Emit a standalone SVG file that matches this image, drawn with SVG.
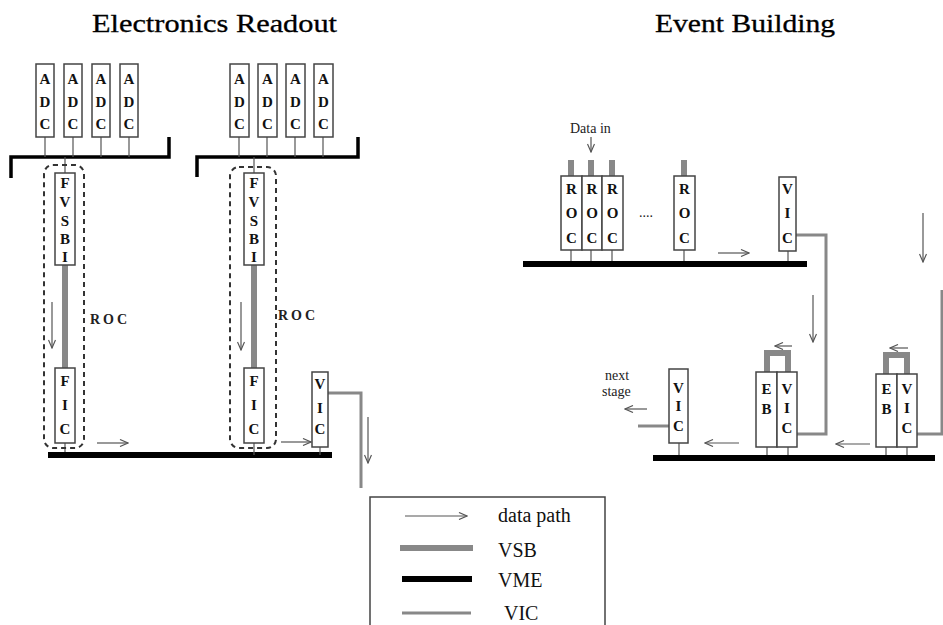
<svg xmlns="http://www.w3.org/2000/svg" width="943" height="625" viewBox="0 0 943 625">
<defs>
<marker id="ah" markerWidth="10" markerHeight="8" refX="9" refY="4" orient="auto" markerUnits="userSpaceOnUse">
<path d="M1,0.5 L9,4 L1,7.5" fill="none" stroke="#555" stroke-width="1.2"/>
</marker>
<style>
.title{font-family:"Liberation Serif",serif;font-size:25px;fill:#000;stroke:#000;stroke-width:0.3}
.box{fill:#fff;stroke:#444;stroke-width:1.5}
.lt{font-family:"Liberation Serif",serif;font-size:15px;font-weight:bold;fill:#111;text-anchor:middle}
.roc{font-family:"Liberation Serif",serif;font-size:14px;font-weight:bold;fill:#222;letter-spacing:3px}
.sm{font-family:"Liberation Serif",serif;font-size:14px;fill:#222}
.leg{font-family:"Liberation Serif",serif;font-size:20px;fill:#111}
.stub{stroke:#555;stroke-width:1.2;fill:none}
.vme{stroke:#000;stroke-width:6;fill:none}
.brk{stroke:#000;stroke-width:3.5;fill:none}
.vsb{stroke:#888;stroke-width:6;fill:none}
.vic{stroke:#888;stroke-width:3;fill:none}
.arr{stroke:#555;stroke-width:1.2;fill:none;marker-end:url(#ah)}
.dash{fill:none;stroke:#333;stroke-width:2;stroke-dasharray:5,4}
</style>
</defs>

<text class="title" x="92" y="32" textLength="245" lengthAdjust="spacingAndGlyphs">Electronics Readout</text>
<text class="title" x="655" y="32" textLength="180" lengthAdjust="spacingAndGlyphs">Event Building</text>

<g id="connectors">
<!-- crate 1 -->
<path class="brk" d="M11,178 V157 H169 V137"/>
<path class="stub" d="M45,137 V157 M73,137 V157 M101,137 V157 M129,137 V157 M65,157 V173 M65,443 V455"/>
<path class="vsb" d="M65,265 V368"/>
<path class="arr" d="M52,302 V348"/>
<path class="arr" d="M97,443 H128"/>
<path class="vme" d="M48,455 H332"/>
<!-- crate 2 -->
<path class="brk" d="M197,177 V157 H358 V137"/>
<path class="stub" d="M239,137 V157 M267,137 V157 M295,137 V157 M323,137 V157 M254,157 V173 M254,443 V455 M320,447 V455"/>
<path class="vsb" d="M254,265 V368"/>
<path class="arr" d="M241,302 V350"/>
<path class="arr" d="M281,442 H311"/>
<path class="vic" d="M328,393 H361 V488"/>
<path class="arr" d="M368,417 V463"/>
<!-- event building top -->
<path class="arr" d="M591,137 V152"/>
<path class="vsb" d="M571,160 V176 M591,160 V176 M612,160 V176 M684,160 V176"/>
<path class="stub" d="M571,250 V264 M591,250 V264 M612,250 V264 M684,250 V264 M788,251 V264"/>
<path class="vme" d="M523,264 H807"/>
<path class="arr" d="M718,253 H749"/>
<path class="vic" d="M796,235 H826 V434 H797"/>
<path class="arr" d="M813,295 V342"/>
<!-- event building bottom -->
<path class="vsb" d="M767,372 V353 H788 V372"/>
<path class="arr" d="M792,346 H775"/>
<path class="vsb" d="M886,374 V355 H907 V374"/>
<path class="arr" d="M908,348 H890"/>
<path class="stub" d="M767,447 V458 M788,447 V458 M886,447 V458 M907,447 V458 M679,443 V458"/>
<path class="vme" d="M653,458 H935"/>
<path class="arr" d="M739,443 H705"/>
<path class="arr" d="M870,444 H836"/>
<path class="vic" d="M669,426 H638"/>
<path class="arr" d="M647,409 H625"/>
<path class="vic" d="M917,434 H942 V290"/>
<path class="arr" d="M923,213 V262"/>
</g>

<g id="roc1">
<rect class="dash" x="44" y="165" width="40" height="283" rx="9"/>
<text class="roc" x="90" y="324">ROC</text>
</g>
<g id="roc2">
<rect class="dash" x="230" y="167" width="46" height="281" rx="9"/>
<text class="roc" x="278" y="320">ROC</text>
</g>

<g id="adc1-1"><rect class="box" x="36" y="64" width="18" height="73"/><text class="lt"><tspan x="45" y="84">A</tspan><tspan x="45" y="107">D</tspan><tspan x="45" y="129">C</tspan></text></g>
<g id="adc1-2"><rect class="box" x="64" y="64" width="18" height="73"/><text class="lt"><tspan x="73" y="84">A</tspan><tspan x="73" y="107">D</tspan><tspan x="73" y="129">C</tspan></text></g>
<g id="adc1-3"><rect class="box" x="92" y="64" width="18" height="73"/><text class="lt"><tspan x="101" y="84">A</tspan><tspan x="101" y="107">D</tspan><tspan x="101" y="129">C</tspan></text></g>
<g id="adc1-4"><rect class="box" x="120" y="64" width="18" height="73"/><text class="lt"><tspan x="129" y="84">A</tspan><tspan x="129" y="107">D</tspan><tspan x="129" y="129">C</tspan></text></g>

<g id="adc2-1"><rect class="box" x="230" y="64" width="19" height="73"/><text class="lt"><tspan x="239.5" y="84">A</tspan><tspan x="239.5" y="107">D</tspan><tspan x="239.5" y="129">C</tspan></text></g>
<g id="adc2-2"><rect class="box" x="258" y="64" width="19" height="73"/><text class="lt"><tspan x="267.5" y="84">A</tspan><tspan x="267.5" y="107">D</tspan><tspan x="267.5" y="129">C</tspan></text></g>
<g id="adc2-3"><rect class="box" x="286" y="64" width="19" height="73"/><text class="lt"><tspan x="295.5" y="84">A</tspan><tspan x="295.5" y="107">D</tspan><tspan x="295.5" y="129">C</tspan></text></g>
<g id="adc2-4"><rect class="box" x="314" y="64" width="19" height="73"/><text class="lt"><tspan x="323.5" y="84">A</tspan><tspan x="323.5" y="107">D</tspan><tspan x="323.5" y="129">C</tspan></text></g>

<g id="fvsbi1"><rect class="box" x="55" y="173" width="20" height="92"/><text class="lt"><tspan x="65" y="188">F</tspan><tspan x="65" y="207">V</tspan><tspan x="65" y="226">S</tspan><tspan x="65" y="244">B</tspan><tspan x="65" y="262">I</tspan></text></g>
<g id="fic1"><rect class="box" x="55" y="368" width="20" height="75"/><text class="lt"><tspan x="65" y="386">F</tspan><tspan x="65" y="410">I</tspan><tspan x="65" y="434">C</tspan></text></g>
<g id="fvsbi2"><rect class="box" x="244" y="173" width="20" height="92"/><text class="lt"><tspan x="254" y="188">F</tspan><tspan x="254" y="207">V</tspan><tspan x="254" y="226">S</tspan><tspan x="254" y="244">B</tspan><tspan x="254" y="262">I</tspan></text></g>
<g id="fic2"><rect class="box" x="244" y="368" width="20" height="75"/><text class="lt"><tspan x="254" y="386">F</tspan><tspan x="254" y="410">I</tspan><tspan x="254" y="434">C</tspan></text></g>
<g id="vic-crate2"><rect class="box" x="312" y="372" width="16" height="75"/><text class="lt"><tspan x="320" y="389">V</tspan><tspan x="320" y="413">I</tspan><tspan x="320" y="434">C</tspan></text></g>

<g id="datain"><text class="sm" x="570" y="133">Data in</text></g>
<g id="roc-a"><rect class="box" x="561" y="176" width="21" height="74"/><text class="lt"><tspan x="571.5" y="194">R</tspan><tspan x="571.5" y="218">O</tspan><tspan x="571.5" y="243">C</tspan></text></g>
<g id="roc-b"><rect class="box" x="582" y="176" width="20" height="74"/><text class="lt"><tspan x="592" y="194">R</tspan><tspan x="592" y="218">O</tspan><tspan x="592" y="243">C</tspan></text></g>
<g id="roc-c"><rect class="box" x="602" y="176" width="21" height="74"/><text class="lt"><tspan x="612.5" y="194">R</tspan><tspan x="612.5" y="218">O</tspan><tspan x="612.5" y="243">C</tspan></text></g>
<g id="dots"><text class="sm" x="639" y="217" fill="#666">....</text></g>
<g id="roc-n"><rect class="box" x="674" y="176" width="21" height="74"/><text class="lt"><tspan x="684.5" y="194">R</tspan><tspan x="684.5" y="218">O</tspan><tspan x="684.5" y="243">C</tspan></text></g>
<g id="vic-top"><rect class="box" x="779" y="177" width="17" height="74"/><text class="lt"><tspan x="787.5" y="194">V</tspan><tspan x="787.5" y="218">I</tspan><tspan x="787.5" y="243">C</tspan></text></g>

<g id="eb1"><rect class="box" x="756" y="372" width="21" height="75"/><text class="lt"><tspan x="766.5" y="394">E</tspan><tspan x="766.5" y="414">B</tspan></text></g>
<g id="vic-eb1"><rect class="box" x="777" y="372" width="20" height="75"/><text class="lt"><tspan x="787" y="394">V</tspan><tspan x="787" y="413">I</tspan><tspan x="787" y="433">C</tspan></text></g>
<g id="eb2"><rect class="box" x="876" y="374" width="21" height="73"/><text class="lt"><tspan x="886.5" y="394">E</tspan><tspan x="886.5" y="414">B</tspan></text></g>
<g id="vic-eb2"><rect class="box" x="897" y="374" width="20" height="73"/><text class="lt"><tspan x="907" y="394">V</tspan><tspan x="907" y="413">I</tspan><tspan x="907" y="433">C</tspan></text></g>
<g id="vic-next"><rect class="box" x="669" y="369" width="19" height="74"/><text class="lt"><tspan x="678.5" y="393">V</tspan><tspan x="678.5" y="411">I</tspan><tspan x="678.5" y="431">C</tspan></text></g>
<g id="nextstage"><text class="sm" x="605" y="380">next</text><text class="sm" x="602" y="396">stage</text></g>

<g id="legend">
<path d="M370,625 V497 H605 V625" fill="none" stroke="#444" stroke-width="1.5"/>
<path class="arr" d="M405,516 H467"/>
<text class="leg" x="498" y="522">data path</text>
<path d="M400,548 H473" stroke="#888" stroke-width="6"/>
<text class="leg" x="498" y="557">VSB</text>
<path d="M402,579 H472" stroke="#000" stroke-width="6"/>
<text class="leg" x="498" y="587">VME</text>
<path d="M402,613 H471" stroke="#888" stroke-width="3"/>
<text class="leg" x="504" y="620">VIC</text>
</g>
</svg>
